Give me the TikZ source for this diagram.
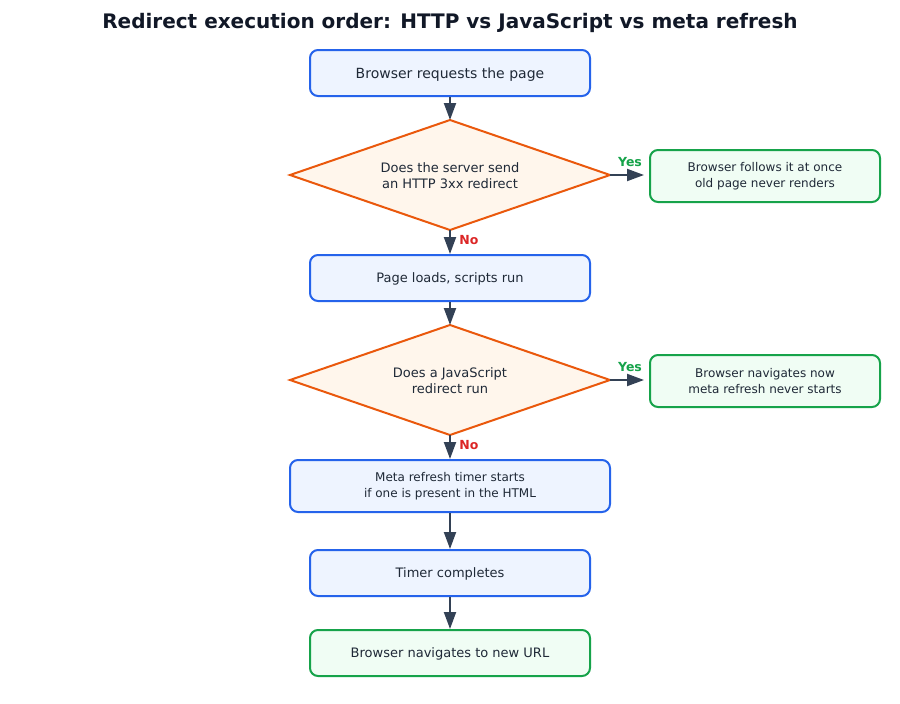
\documentclass[tikz,border=0pt]{standalone}
\usepackage{fontspec}
\setmainfont{DejaVu Sans}
\usetikzlibrary{arrows.meta}
\definecolor{bluebd}{HTML}{2563EB}
\definecolor{bluefill}{HTML}{EEF4FF}
\definecolor{orangebd}{HTML}{EA580C}
\definecolor{orangefill}{HTML}{FFF6EC}
\definecolor{greenbd}{HTML}{16A34A}
\definecolor{greenfill}{HTML}{F0FDF4}
\definecolor{txt}{HTML}{1F2937}
\definecolor{arrowc}{HTML}{334155}
\definecolor{titlec}{HTML}{111827}
\definecolor{noc}{HTML}{DC2626}
\tikzset{
  boxbase/.style={line width=2pt, rounded corners=8pt, text=txt, inner sep=0pt},
  procbox/.style={boxbase, draw=bluebd, fill=bluefill},
  okbox/.style={boxbase, draw=greenbd, fill=greenfill},
  twoline/.style={align=center},
  decideshape/.style={draw=orangebd, fill=orangefill, line width=2pt, line join=miter},
  decidetext/.style={text=txt, align=center, inner sep=0pt},
  fbig/.style={font=\fontsize{14}{17}\selectfont, text height=10.2pt, text depth=0pt},
  fmid/.style={font=\fontsize{13}{16}\selectfont, text height=9.5pt, text depth=0pt},
  fmidtwo/.style={font=\fontsize{13}{16}\selectfont},
  fsmall/.style={font=\fontsize{12}{16}\selectfont},
  flow/.style={draw=arrowc, line width=2pt, -{Triangle[length=17pt,width=12pt]}},
  yeslbl/.style={text=greenbd, font=\fontsize{12.5}{15}\selectfont\bfseries},
  nolbl/.style={text=noc, font=\fontsize{12.5}{15}\selectfont\bfseries}
}
\begin{document}
\begin{tikzpicture}[x=1pt,y=-1pt]
\useasboundingbox (0,0) rectangle (900,704);
\fill[white] (0,0) rectangle (900,704);
\node[text=titlec, font=\fontsize{20}{24}\selectfont\bfseries, text height=14.6pt, text depth=0pt, inner sep=0pt] (title) at (450,21.3) {Redirect execution order: HTTP vs JavaScript vs meta refresh};

\node[procbox, fbig, minimum width=280pt, minimum height=46pt] (b1) at (450,73) {Browser requests the page};

% decision 1
\coordinate (d1n) at (450,120);
\coordinate (d1e) at (610,175);
\coordinate (d1s) at (450,230);
\coordinate (d1w) at (290,175);
\path[decideshape] (d1n) -- (d1e) -- (d1s) -- (d1w) -- cycle;
\node[decidetext, fmidtwo] (d1) at (450,176) {Does the server send\\an HTTP 3xx redirect};

\node[okbox, twoline, fsmall, minimum width=230pt, minimum height=52pt] (y1) at (765,176) {Browser follows it at once\\old page never renders};
\node[procbox, fmid, minimum width=280pt, minimum height=46pt] (b2) at (450,278) {Page loads, scripts run};

% decision 2
\coordinate (d2n) at (450,325);
\coordinate (d2e) at (610,380);
\coordinate (d2s) at (450,435);
\coordinate (d2w) at (290,380);
\path[decideshape] (d2n) -- (d2e) -- (d2s) -- (d2w) -- cycle;
\node[decidetext, fmidtwo] (d2) at (450,381) {Does a JavaScript\\redirect run};

\node[okbox, twoline, fsmall, minimum width=230pt, minimum height=52pt] (y2) at (765,381) {Browser navigates now\\meta refresh never starts};
\node[procbox, twoline, fsmall, minimum width=320pt, minimum height=52pt] (b3) at (450,486) {Meta refresh timer starts\\if one is present in the HTML};
\node[procbox, fmid, minimum width=280pt, minimum height=46pt] (b4) at (450,573) {Timer completes};
\node[okbox, fmid, minimum width=280pt, minimum height=46pt] (b5) at (450,653) {Browser navigates to new URL};

\draw[flow] (b1.south) -- (d1n);
\draw[flow] (d1s) -- (b2.north);
\draw[flow] (b2.south) -- (d2n);
\draw[flow] (d2s) -- (b3.north);
\draw[flow] (b3.south) -- (b4.north);
\draw[flow] (b4.south) -- (b5.north);
\draw[flow, shorten >=5pt] (d1e) -- (y1.west |- d1e);
\draw[flow, shorten >=5pt] (d2e) -- (y2.west |- d2e);

\node[yeslbl] (yl1) at (630,162) {Yes};
\node[yeslbl] (yl2) at (630,367) {Yes};
\node[nolbl] (nl1) at (469,240) {No};
\node[nolbl] (nl2) at (469,445) {No};
\end{tikzpicture}
\end{document}
